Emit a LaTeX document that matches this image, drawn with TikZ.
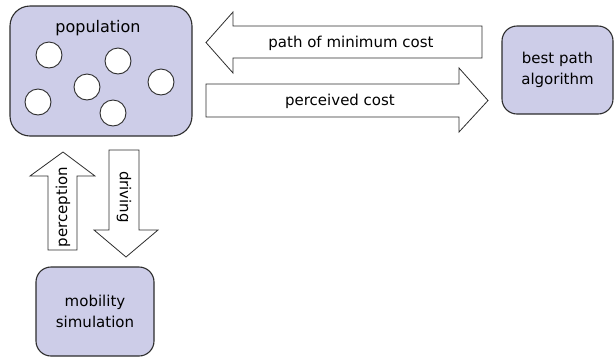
\documentclass[tikz,border=0pt]{standalone}
\usepackage{fontspec}
\setmainfont{DejaVu Sans}
\usepackage{xcolor}
\definecolor{boxfill}{RGB}{205,205,232}
\definecolor{edge}{RGB}{45,45,45}

\begin{document}
\begin{tikzpicture}[x=1pt,y=-1pt,
  box/.style={draw=edge,fill=boxfill,line width=1.1pt,rounded corners=15pt,align=center,
              font=\fontsize{15}{21}\selectfont},
  agent/.style={draw=edge,fill=white,line width=0.9pt},
  blockarrow/.style={draw=edge,fill=white,line width=0.8pt,line join=miter},
  lbl/.style={inner sep=0pt,font=\fontsize{15}{21}\selectfont}]
\useasboundingbox (0,0) rectangle (615,360);
% boxes
\node[box,rounded corners=20pt,minimum width=182pt,minimum height=130pt] (pop) at (101,71) {};
\node[lbl,font=\fontsize{16}{21}\selectfont] (poplbl) at (98,28) {population};
\node[box,minimum width=111pt,minimum height=88pt] (best) at (557.5,70) {best path\\algorithm};
\node[box,minimum width=118pt,minimum height=89pt] (mob) at (95,311.5) {mobility\\simulation};
% individuals
\foreach \cx/\cy [count=\i] in {49/55, 118/61, 161/82, 87/87, 38/102, 113/113}
  \draw[agent] (\cx,\cy) circle (13);
% block arrows
\draw[blockarrow] (482,26) -- (233,26) -- (233,12) -- (206,42.5) -- (233,73) -- (233,58) -- (482,58) -- cycle;
\node[lbl] (minlbl) at (351,43) {path of minimum cost};
\draw[blockarrow] (206,84) -- (459,84) -- (459,68) -- (488,100.5) -- (459,132) -- (459,117) -- (206,117) -- cycle;
\node[lbl] (perclbl) at (340,101) {perceived cost};
\draw[blockarrow] (48,250) -- (48,176) -- (30,176) -- (63,152) -- (95,176) -- (77,176) -- (77,250) -- cycle;
\node[lbl,rotate=90] (perlbl) at (63,207) {perception};
\draw[blockarrow] (109,150) -- (109,230) -- (94,230) -- (126,257) -- (158,230) -- (139,230) -- (139,150) -- cycle;
\node[lbl,rotate=-90] (drvlbl) at (124,197) {driving};
\end{tikzpicture}
\end{document}
